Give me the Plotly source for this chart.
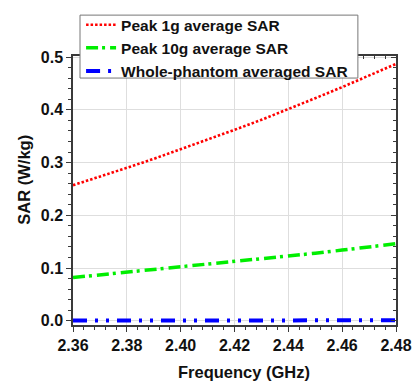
import plotly.graph_objects as go

freq = [2.36, 2.37, 2.38, 2.39, 2.40, 2.41, 2.42, 2.43, 2.44, 2.45, 2.46, 2.47, 2.48]
sar_1g = [0.257, 0.273, 0.290, 0.307, 0.325, 0.343, 0.362, 0.381, 0.401, 0.422, 0.443, 0.465, 0.487]
sar_10g = [0.082, 0.087, 0.092, 0.097, 0.102, 0.107, 0.113, 0.118, 0.123, 0.128, 0.134, 0.140, 0.146]
sar_whole = [0.0007, 0.0007, 0.0007, 0.0007, 0.0007, 0.0007, 0.0007, 0.0007, 0.0008, 0.0008, 0.0008, 0.0008, 0.0008]
names = ["Peak 1g average SAR", "Peak 10g average SAR", "Whole-phantom averaged SAR"]
x_ticks = [2.36, 2.38, 2.40, 2.42, 2.44, 2.46, 2.48]
y_ticks = [0.0, 0.1, 0.2, 0.3, 0.4, 0.5]

FONT = "Liberation Sans"
AX = "#3a3a3a"

fig = go.Figure()
fig.add_trace(go.Scatter(x=freq, y=sar_1g, name=names[0], mode="lines",
                         line=dict(color="#ff0000", width=2.6, dash="2.5px,2px")))
fig.add_trace(go.Scatter(x=freq, y=sar_10g, name=names[1], mode="lines",
                         line=dict(color="#00ee00", width=3.5, dash="12px,4px,3px,5px")))
fig.add_trace(go.Scatter(x=freq, y=sar_whole, name=names[2], mode="lines",
                         line=dict(color="#0000ff", width=4, dash="14px,8px,3px,8px,3px,8px")))
fig.add_trace(go.Scatter(x=[], y=[], xaxis="x2", yaxis="y2", showlegend=False, hoverinfo="skip"))

xr = [2.36, 2.48]
yr = [-0.008, 0.502]

fig.update_layout(
    width=412, height=381,
    margin=dict(l=73, r=16, t=56, b=56, autoexpand=False),
    paper_bgcolor="white", plot_bgcolor="white",
    font=dict(family=FONT, color="#111"),
    showlegend=True,
    legend=dict(x=0.025, y=1.178, xanchor="left", yanchor="top",
                bgcolor="rgba(0,0,0,0)", borderwidth=0,
                font=dict(family=FONT, size=15.5, color="#111", weight="bold"),
                tracegroupgap=0, itemwidth=30),
    shapes=[dict(type="rect", xref="paper", yref="paper", x0=0.0217, x1=0.882, y0=0.918, y1=1.152,
                 fillcolor="white", line=dict(color="#777", width=1), layer="above")],
    xaxis=dict(range=xr, tickvals=x_ticks, ticktext=[f"{v:.2f}" for v in x_ticks],
               ticks="outside", ticklen=5, tickcolor=AX, tickwidth=1,
               showline=True, linecolor=AX, linewidth=1.5, mirror=True,
               showgrid=True, gridcolor="#dedede", gridwidth=1, zeroline=False,
               tickfont=dict(family=FONT, size=16, color="#111", weight="bold"),
               minor=dict(dtick=0.004, tick0=2.36, ticks="outside", ticklen=3, tickcolor=AX, showgrid=False)),
    yaxis=dict(range=yr, tickvals=y_ticks, ticktext=[f"{v:.1f}" for v in y_ticks],
               ticks="outside", ticklen=5, tickcolor=AX, tickwidth=1,
               showline=True, linecolor=AX, linewidth=1.5, mirror=True,
               showgrid=True, gridcolor="#dedede", gridwidth=1, zeroline=False,
               tickfont=dict(family=FONT, size=16, color="#111", weight="bold"),
               minor=dict(dtick=0.02, tick0=0, ticks="outside", ticklen=3, tickcolor=AX, showgrid=False)),
    xaxis2=dict(range=xr, overlaying="x", side="top", anchor="y2", tickvals=x_ticks,
                showticklabels=False, ticks="inside", ticklen=5, tickcolor=AX,
                showgrid=False, zeroline=False, showline=False,
                minor=dict(dtick=0.004, tick0=2.36, ticks="inside", ticklen=3, tickcolor=AX, showgrid=False)),
    yaxis2=dict(range=yr, overlaying="y", side="right", anchor="x2", tickvals=y_ticks,
                showticklabels=False, ticks="inside", ticklen=5, tickcolor=AX,
                showgrid=False, zeroline=False, showline=False,
                minor=dict(dtick=0.02, tick0=0, ticks="inside", ticklen=3, tickcolor=AX, showgrid=False)),
    annotations=[
        dict(text="Frequency (GHz)", xref="paper", yref="paper", x=0.53, y=-0.135,
             xanchor="center", yanchor="top", showarrow=False,
             font=dict(family=FONT, size=16.5, color="#111", weight="bold")),
        dict(text="SAR (W/kg)", xref="paper", yref="paper", x=-0.152, y=0.54,
             xanchor="center", yanchor="middle", textangle=-90, showarrow=False,
             font=dict(family=FONT, size=16.5, color="#111", weight="bold")),
    ],
)

fig.write_html("out.html")
